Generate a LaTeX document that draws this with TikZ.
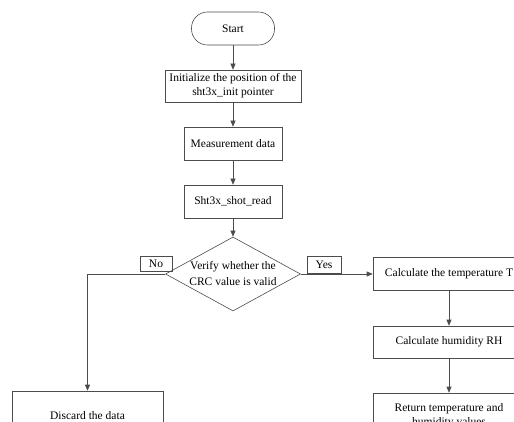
\documentclass[tikz,border=0pt]{standalone}
\usepackage{fontspec}
\setmainfont{Liberation Serif}
\usetikzlibrary{shapes.geometric,arrows.meta}
\begin{document}
\begin{tikzpicture}
[x=1pt,y=1pt,
  boxdecorate/.style={shape=rectangle,draw=black!70,line width=0.6pt,inner sep=0pt,%
    minimum height=33pt,align=center,font=\fontsize{11.5}{14}\selectfont},%
  startdecorate/.style={boxdecorate,rounded corners=16pt,minimum width=83pt},%
  choicedecorate/.style={boxdecorate,shape=diamond,aspect=1.82,%
    minimum width=135pt,minimum height=74pt,font=\fontsize{11.5}{16}\selectfont},%
  tagdecorate/.style={boxdecorate,minimum height=15pt},%
  linedecorate/.style={-{Triangle[length=6pt,width=5pt]},draw=black!70,line width=0.6pt}]
\useasboundingbox (0,0) rectangle (514,421);
\clip (0,0) rectangle (514,421);
%% nodes or vertices
\node (start) at (233,392.5) [startdecorate] {Start};
\node (init) at (233,335) [boxdecorate,minimum width=136pt,minimum height=32pt]
  {Initialize the position of the\\sht3x\_init pointer};
\node (meas) at (233,277.5) [boxdecorate,minimum width=98pt] {Measurement data};
\node (read) at (233,219.5) [boxdecorate,minimum width=98pt] {Sht3x\_shot\_read};
\node (crc) at (233,147) [choicedecorate] {Verify whether the\\CRC value is valid};
\node (calcT) at (449,147) [boxdecorate,minimum width=152pt] {Calculate the temperature T};
\node (hum) at (449,79) [boxdecorate,minimum width=152pt,minimum height=32pt] {Calculate humidity RH};
\node (ret) at (449,5) [boxdecorate,minimum width=152pt,minimum height=46pt]
  {Return temperature and\\humidity values};
\node (discard) at (87.5,5) [boxdecorate,minimum width=151pt,minimum height=50pt] {Discard the data};
\node (no) at (156,157.5) [tagdecorate,minimum width=32pt] {No};
\node (yes) at (324,156) [tagdecorate,minimum width=34pt,minimum height=17pt] {Yes};
%% edges or lines
\path
\foreach \startnode/\endnode in {start/init, init/meas, meas/read, read/crc,
  crc/calcT, calcT/hum, hum/ret} {
  (\startnode) edge[linedecorate] node {} (\endnode)
};
\draw[linedecorate] (crc.west) -| (discard.north);
\end{tikzpicture}
\end{document}
